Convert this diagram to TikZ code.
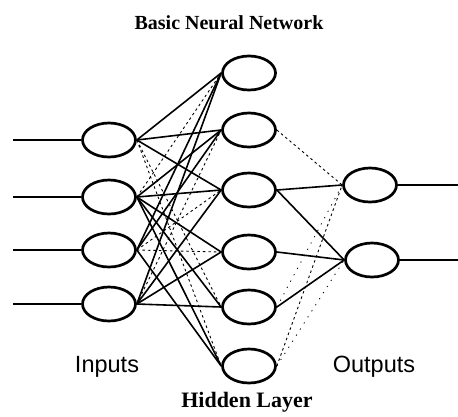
\documentclass[tikz,border=0pt]{standalone}
\usepackage{fontspec}
\setmainfont{Liberation Serif}
\newfontfamily\labelsans{Liberation Sans}
\usetikzlibrary{shapes.geometric}
\begin{document}
\begin{tikzpicture}[x=1pt,y=-1pt,
  neuron/.style={draw, ellipse, line width=2.7pt, minimum width=53pt, minimum height=34pt, inner sep=0pt},
  stub/.style={line width=1.7pt},
  conn/.style={line width=1.6pt},
  weak/.style={line width=0.9pt, dash pattern=on 2.5pt off 3pt},
  faint/.style={line width=0.8pt, dash pattern=on 1.2pt off 6pt},
  heading/.style={font=\fontsize{20}{22}\selectfont\bfseries},
  layer/.style={font=\labelsans\fontsize{23.5}{26}\selectfont}]
\useasboundingbox (0,0) rectangle (458,416);

% title
\node[heading] (title) at (229,23) {Basic Neural Network};

% input layer
\node[neuron] (i1) at (109,140) {};
\node[neuron] (i2) at (109,197) {};
\node[neuron] (i3) at (109,250) {};
\node[neuron] (i4) at (109,304) {};

% hidden layer
\node[neuron] (h1) at (249,73) {};
\node[neuron] (h2) at (249,130) {};
\node[neuron] (h3) at (249,190) {};
\node[neuron] (h4) at (249,252) {};
\node[neuron] (h5) at (249,307) {};
\node[neuron] (h6) at (249,366) {};

% output layer
\node[neuron] (o1) at (370,185) {};
\node[neuron] (o2) at (372,260) {};

% free ends of the input and output lines
\coordinate (a1) at (13,140);
\coordinate (a2) at (13,197);
\coordinate (a3) at (13,250);
\coordinate (a4) at (13,304);
\coordinate (b1) at (458,185);
\coordinate (b2) at (458,260);

\foreach \k in {1,...,4} \draw[stub] (a\k) -- (i\k.west);
\draw[stub] (o1.east) -- (b1);
\draw[stub] (o2.east) -- (b2);

% input -> hidden, strong weights
\foreach \s/\t in {i1/h1, i1/h2, i1/h3,
                   i2/h2, i2/h3, i2/h4, i2/h5, i2/h6,
                   i3/h1, i3/h2, i3/h6,
                   i4/h1, i4/h3, i4/h4, i4/h5}
  \draw[conn] (\s.east) -- (\t.west);

% input -> hidden, weak weights
\foreach \s/\t in {i1/h5, i1/h6, i2/h1, i3/h3, i3/h4, i4/h2}
  \draw[weak] (\s.east) -- (\t.west);

% hidden -> output
\foreach \s/\t in {h3/o1, h3/o2, h4/o2, h5/o2}
  \draw[conn] (\s.east) -- (\t.west);
\foreach \s/\t in {h2/o1, h6/o1}
  \draw[weak] (\s.east) -- (\t.west);
\foreach \s/\t in {h5/o1, h6/o2}
  \draw[faint] (\s.east) -- (\t.west);

% layer labels
\node[layer] (lin) at (107,367) {Inputs};
\node[layer] (lout) at (374,367) {Outputs};
\node[heading, font=\fontsize{22}{24}\selectfont\bfseries] (lhid) at (247,402) {Hidden Layer};
\end{tikzpicture}
\end{document}
